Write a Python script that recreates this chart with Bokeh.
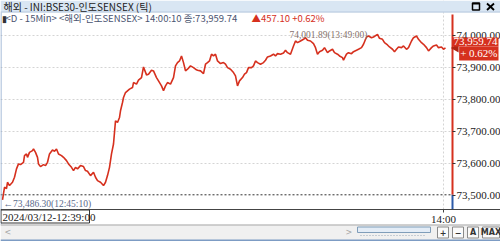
import numpy as np
from bokeh.plotting import figure
from bokeh.models import (Range1d, FixedTicker, NumeralTickFormatter, Label, LinearAxis, Grid,
                          ColumnDataSource)
from bokeh.embed import file_html
from bokeh.resources import INLINE
from bokeh.core.properties import value

# ---------------- data ----------------
title_text = "해외 - INI:BSE30-인도SENSEX (틱)"
legend_text = "<D - 15Min> <해외-인도SENSEX> 14:00:10 종:73,959.74"
change_text = "▲457.10  +0.62%"
last_price = 73959.74
change = 457.10
change_pct_text = "+ 0.62%"
high_price = 74001.89
high_time = "13:49:00"
low_price = 73486.30
low_time = "12:45:10"
start_label = "2024/03/12-12:39:00"
price_ticks = [73500, 73600, 73700, 73800, 73900, 74000]
time_tick_no = 441
time_tick_label = "14:00"

tick_no = [0, 2, 4, 5, 7, 10, 12, 14, 16, 18, 21, 22, 24, 25, 27, 30, 31, 33, 35, 36,
           38, 41, 43, 45, 47, 50, 52, 54, 56, 59, 61, 64, 66, 69, 71, 73, 75, 78, 81, 83,
           85, 88, 91, 93, 95, 98, 101, 103, 105, 107, 109, 111, 112, 113, 115, 117, 118, 120, 121, 123,
           125, 127, 130, 131, 134, 136, 139, 141, 144, 146, 149, 151, 154, 156, 159, 161, 163, 165, 168, 171,
           173, 175, 177, 179, 181, 183, 185, 188, 191, 193, 195, 198, 201, 203, 205, 207, 209, 211, 213, 215,
           218, 221, 223, 225, 228, 231, 233, 235, 237, 240, 242, 244, 246, 249, 251, 253, 255, 258, 261, 263,
           265, 268, 271, 273, 275, 278, 281, 283, 285, 288, 291, 293, 295, 298, 301, 303, 305, 308, 311, 313,
           315, 317, 320, 322, 325, 327, 330, 332, 335, 337, 340, 341, 344, 346, 349, 351, 354, 356, 359, 361,
           364, 366, 369, 371, 375, 377, 380, 382, 385, 387, 390, 392, 394, 396, 399, 401, 404, 406, 409, 411,
           414, 416, 419, 421, 424, 426, 429, 431, 434, 436, 439, 441, 443]
price = [73486.3, 73525.7, 73521.7, 73541.2, 73531.0, 73541.2, 73556.8, 73582.9, 73598.4, 73596.2,
         73603.4, 73624.2, 73629.5, 73618.9, 73634.4, 73639.7, 73645.0, 73634.4, 73618.9, 73598.4,
         73590.0, 73596.2, 73593.1, 73603.4, 73629.5, 73641.9, 73637.5, 73645.0, 73629.5, 73624.2,
         73618.9, 73608.6, 73598.4, 73587.8, 73577.6, 73587.8, 73582.9, 73593.1, 73590.0, 73577.6,
         73575.4, 73562.0, 73572.3, 73556.8, 73546.5, 73541.2, 73531.0, 73541.2, 73562.0, 73587.8,
         73629.5, 73660.5, 73696.5, 73732.9, 73727.6, 73743.1, 73763.9, 73789.7, 73805.3, 73820.8,
         73826.1, 73831.3, 73836.3, 73851.8, 73846.9, 73859.3, 73867.4, 73900.6, 73875.8, 73877.9,
         73890.4, 73888.2, 73867.4, 73857.1, 73841.6, 73826.1, 73841.6, 73851.8, 73846.9, 73867.4,
         73903.7, 73914.0, 73919.2, 73934.8, 73914.0, 73888.2, 73893.5, 73903.7, 73898.4, 73893.5,
         73890.4, 73888.2, 73879.8, 73909.0, 73914.0, 73919.2, 73940.1, 73934.8, 73940.1, 73919.2,
         73910.9, 73914.0, 73909.0, 73898.4, 73893.5, 73882.9, 73872.7, 73841.6, 73857.1, 73867.4,
         73877.9, 73882.9, 73898.4, 73898.4, 73903.7, 73919.2, 73914.0, 73909.0, 73914.0, 73921.4,
         73931.7, 73934.8, 73940.1, 73934.8, 73941.9, 73940.1, 73944.1, 73952.5, 73945.0, 73940.1,
         73965.8, 73981.4, 73976.1, 73981.4, 73986.6, 73991.6, 73983.5, 73981.4, 73973.0, 73960.6,
         73940.1, 73948.1, 73952.5, 73960.6, 73945.0, 73950.3, 73955.6, 73945.0, 73940.1, 73934.8,
         73929.5, 73921.4, 73940.1, 73945.0, 73941.9, 73948.1, 73952.5, 73955.6, 73960.6, 73971.1,
         73993.8, 73996.9, 73991.6, 73993.8, 74001.89, 73989.8, 73986.6, 73976.1, 73968.9, 73962.7,
         73955.6, 73948.1, 73955.6, 73962.7, 73960.6, 73965.8, 73955.6, 73960.6, 73981.4, 73991.6,
         73996.9, 73986.6, 73976.1, 73971.1, 73960.6, 73950.3, 73960.6, 73965.8, 73968.9, 73960.6,
         73962.7, 73955.6, 73959.74]

prev_close = last_price - change

# ---------------- layout / styles ----------------
W, H = 500, 241
KR = "Noto Sans CJK KR"
NUM = "Liberation Sans Narrow"
RED = "#d6301e"
BLUE = "#2c5aa8"
TXT = "#222222"

PX_PER_PT = 0.321
Y_74000 = 34.5
PY1 = 74000 + Y_74000 / PX_PER_PT
PY0 = 74000 - (H - Y_74000) / PX_PER_PT
XS, XE = -2, W - 2
X1 = 450

TOP_BAR = 12
AXIS_Y = 209
SCROLL_Y = 224


def price_at(px_y):
    return PY1 - px_y * (PY1 - PY0) / H


P_TOP = price_at(TOP_BAR + 2)
P_AXIS = price_at(AXIS_Y)

p = figure(width=W, height=H, x_range=Range1d(XS, XE), y_range=Range1d(PY0, PY1),
           toolbar_location=None, output_backend="svg", x_axis_type=None, y_axis_type=None,
           min_border=0, outline_line_color=None, background_fill_color="white",
           border_fill_color="white")
p.extra_x_ranges = {"px": Range1d(0, W)}
p.extra_y_ranges = {"px": Range1d(H, 0)}

# axes (fixed inside the canvas)
yax = LinearAxis(ticker=FixedTicker(ticks=price_ticks),
                 formatter=NumeralTickFormatter(format="0,0.00"), fixed_location=X1)
yax.axis_line_color = None
yax.major_tick_in = 0
yax.major_tick_out = 3
yax.major_tick_line_color = "#333333"
yax.minor_tick_line_color = None
yax.major_label_text_font = NUM
yax.major_label_text_font_size = "11px"
yax.major_label_text_color = TXT
yax.major_label_standoff = 1
p.add_layout(yax, "right")

xax = LinearAxis(ticker=FixedTicker(ticks=[time_tick_no]), fixed_location=P_AXIS)
xax.major_label_overrides = {time_tick_no: time_tick_label}
xax.axis_line_color = "#444444"
xax.major_tick_in = 0
xax.major_tick_out = 3
xax.major_tick_line_color = "#444444"
xax.minor_tick_line_color = None
xax.major_label_text_font = NUM
xax.major_label_text_font_size = "11px"
xax.major_label_text_color = TXT
xax.major_label_standoff = 0
p.add_layout(xax, "below")

p.add_layout(Grid(dimension=1, ticker=yax.ticker, grid_line_color="#d4d4d4",
                  grid_line_dash="2 2"))
p.add_layout(Grid(dimension=0, ticker=xax.ticker, grid_line_color="#d4d4d4",
                  grid_line_dash="2 2"))

# chrome covers (px coordinates)
px = dict(x_range_name="px", y_range_name="px")
p.quad(left=[X1 + 3], right=[W], top=[TOP_BAR], bottom=[AXIS_Y], fill_color="white",
       line_color=None, **px)
p.quad(left=[0], right=[W], top=[AXIS_Y], bottom=[SCROLL_Y], fill_color="white",
       line_color=None, **px)

# price line
src = ColumnDataSource(data=dict(t=tick_no, p=price))
p.line("t", "p", source=src, line_color=RED, line_width=1.6)

# previous close dotted line
p.segment(x0=[XS], y0=[prev_close], x1=[X1], y1=[prev_close], line_color="#555555",
          line_dash="2 2", line_width=1)

# right edge price bar: red above previous close, blue below
p.segment(x0=[X1], y0=[prev_close], x1=[X1], y1=[P_TOP], line_color=RED, line_width=2)
p.segment(x0=[X1], y0=[P_AXIS], x1=[X1], y1=[prev_close], line_color=BLUE, line_width=2)

# title bar
p.quad(left=[0], right=[W], top=[0], bottom=[TOP_BAR], fill_color="#d9e6f3",
       line_color=None, **px)
p.segment(x0=[0], y0=[TOP_BAR - 0.5], x1=[W], y1=[TOP_BAR - 0.5], line_color="#b7c9de", **px)
p.text(x=[3], y=[6], text=[title_text], text_font=value(KR), text_font_size="10px",
       text_baseline="middle", text_color=TXT, **px)
# window buttons (restore box, close cross) drawn with heavier strokes
p.quad(left=[472], right=[479], top=[2.5], bottom=[9.5], fill_color="#d9e6f3",
       line_color="#000000", line_width=1.5, **px)
p.quad(left=[472], right=[479], top=[2.5], bottom=[4], fill_color="#000000",
       line_color=None, **px)
p.segment(x0=[486.5, 486.5], y0=[3, 9.5], x1=[493.5, 493.5], y1=[9.5, 3], line_color="#000000",
          line_width=1.8, **px)

# left window border
p.segment(x0=[0.5], y0=[TOP_BAR], x1=[0.5], y1=[SCROLL_Y], line_color="#8aa6cc", **px)

# header legend
p.text(x=[1], y=[17.5], text=["▮"], text_font=value(KR), text_font_size="9px",
       text_baseline="middle", text_color="#333333", **px)
p.text(x=[5], y=[17.5], text=[legend_text], text_font=value(KR), text_font_size="9.5px",
       text_baseline="middle", text_color="#4a5470", **px)
p.text(x=[251], y=[17.5], text=[change_text], text_font=value(KR), text_font_size="9.5px",
       text_baseline="middle", text_color=RED, **px)

# high / low annotations
hi_i = int(np.argmax(price))
lo_i = int(np.argmin(price))
p.add_layout(Label(x=tick_no[hi_i], y=price[hi_i], x_offset=-10, y_offset=-1,
                   text=f"{high_price:,.2f}({high_time})", text_font=NUM, text_font_size="9.5px",
                   text_align="right", text_baseline="middle", text_color="#86736c"))
p.add_layout(Label(x=tick_no[lo_i], y=price[lo_i], x_offset=1, y_offset=-4,
                   text=f"←{low_price:,.2f}({low_time})", text_font=NUM, text_font_size="9.5px",
                   text_align="left", text_baseline="middle", text_color="#5a6a8c"))

# last price badge (drawn above the axis labels)
p.scatter(x=[X1 + 3.5], y=[last_price], marker="triangle", angle=np.pi / 2, size=9,
          fill_color="#b02414", line_color=None, level="overlay")
p.add_layout(Label(x=X1, y=last_price, x_offset=46, y_offset=1.5,
                   text=f"{last_price:,.2f}", text_font=NUM, text_font_size="11px",
                   text_align="right", text_baseline="bottom", text_color="white",
                   background_fill_color=RED, padding=1, level="overlay"))
p.add_layout(Label(x=X1, y=last_price, x_offset=46, y_offset=1.5,
                   text=change_pct_text, text_font=NUM, text_font_size="11px",
                   text_align="right", text_baseline="top", text_color="white",
                   background_fill_color=RED, padding=1, level="overlay"))

# start date box
p.quad(left=[0.5], right=[89], top=[AXIS_Y + 0.5], bottom=[SCROLL_Y - 1.5], fill_color="white",
       line_color="#333333", line_width=1, **px)
p.text(x=[2], y=[216.5], text=[start_label], text_font=value(NUM), text_font_size="11px",
       text_baseline="middle", text_color=TXT, **px)

# scroll bar
p.quad(left=[0], right=[W], top=[SCROLL_Y], bottom=[H], fill_color="#f0f0f0",
       line_color=None, **px)
p.segment(x0=[0], y0=[SCROLL_Y + 0.5], x1=[W], y1=[SCROLL_Y + 0.5], line_color="#a8a8a8", **px)
p.quad(left=[0], right=[W], top=[H - 2], bottom=[H], fill_color="#7d9cc4", line_color=None, **px)
p.text(x=[4, 345], y=[232, 232], text=["<", ">"], text_font=value("DejaVu Sans"),
       text_font_size="8px", text_baseline="middle", text_color="#a5a5a5", **px)
p.quad(left=[357], right=[430], top=[226.5], bottom=[232], fill_color="#e3ecf6",
       line_color="#7f9db9", line_width=1, **px)
p.segment(x0=[360], y0=[235], x1=[424], y1=[235], line_color="#9aa8b8", line_dash="1 2", **px)
bx_l = [437, 452, 467, 482]
bx_r = [448, 463, 478, 499]
p.quad(left=bx_l, right=bx_r, top=[226.5] * 4, bottom=[237.5] * 4, fill_color="#fafafa",
       line_color="#8a8a8a", line_width=1, **px)
p.text(x=[(a + b) / 2 for a, b in zip(bx_l, bx_r)], y=[232] * 4, text=["+", "−", "A", "MAX"],
       text_font=value("DejaVu Sans"), text_font_size="8px", text_font_style="bold",
       text_align="center", text_baseline="middle", text_color="#333333", **px)

open("out.html", "w").write(file_html(p, INLINE))
